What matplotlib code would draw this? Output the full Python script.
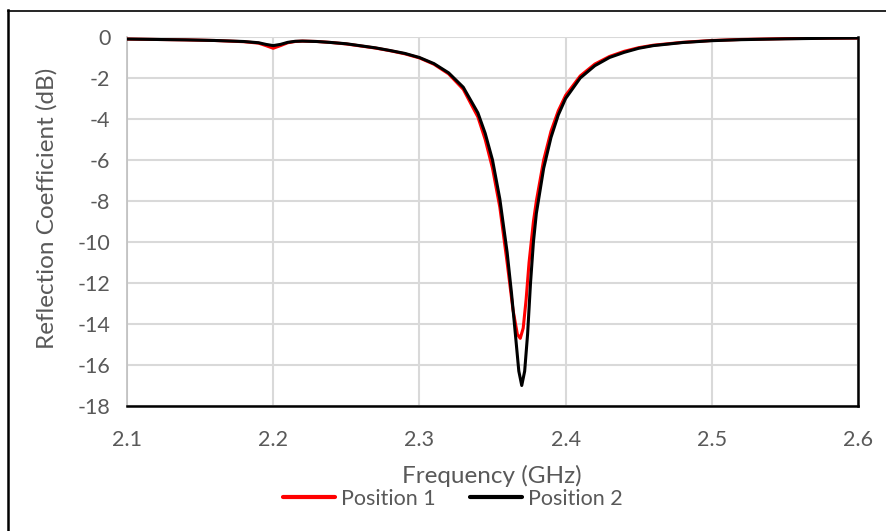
import matplotlib
matplotlib.use("Agg")
import matplotlib.pyplot as plt
from matplotlib.lines import Line2D

plt.rcParams['font.family'] = ['Lato', 'DejaVu Sans']

# Measured reflection coefficient, position 1
freq_p1 = [2.10, 2.12, 2.14, 2.16, 2.18, 2.19, 2.195, 2.20, 2.205, 2.21, 2.215,
           2.22, 2.23, 2.24, 2.25, 2.26, 2.27, 2.28, 2.29, 2.30, 2.31, 2.32,
           2.33, 2.34, 2.345, 2.35, 2.355, 2.36, 2.364, 2.367, 2.369, 2.371,
           2.373, 2.375, 2.378, 2.38, 2.385, 2.39, 2.395, 2.40, 2.41, 2.42,
           2.43, 2.44, 2.45, 2.46, 2.48, 2.50, 2.52, 2.55, 2.58, 2.60]
s11_p1 = [-0.10, -0.12, -0.14, -0.17, -0.23, -0.30, -0.42, -0.55, -0.42, -0.28, -0.22,
          -0.20, -0.22, -0.27, -0.34, -0.44, -0.54, -0.67, -0.82, -1.02, -1.33, -1.80,
          -2.55, -3.90, -5.00, -6.40, -8.30, -11.0, -13.3, -14.5, -14.7, -14.2,
          -12.8, -11.0, -9.0, -8.0, -6.0, -4.6, -3.6, -2.85, -1.90, -1.32,
          -0.95, -0.70, -0.52, -0.40, -0.26, -0.17, -0.12, -0.08, -0.06, -0.05]

# Measured reflection coefficient, position 2
freq_p2 = [2.10, 2.12, 2.14, 2.16, 2.18, 2.19, 2.195, 2.20, 2.205, 2.21, 2.215,
           2.22, 2.23, 2.24, 2.25, 2.26, 2.27, 2.28, 2.29, 2.30, 2.31, 2.32,
           2.33, 2.34, 2.345, 2.35, 2.355, 2.36, 2.363, 2.365, 2.368, 2.370,
           2.372, 2.374, 2.376, 2.378, 2.38, 2.385, 2.39, 2.395, 2.40, 2.41,
           2.42, 2.43, 2.44, 2.45, 2.46, 2.48, 2.50, 2.52, 2.55, 2.58, 2.60]
s11_p2 = [-0.10, -0.12, -0.14, -0.17, -0.22, -0.28, -0.36, -0.42, -0.36, -0.26, -0.21,
          -0.20, -0.22, -0.27, -0.33, -0.43, -0.53, -0.66, -0.80, -1.00, -1.30, -1.75,
          -2.45, -3.70, -4.70, -6.00, -7.90, -10.5, -12.5, -14.0, -16.3, -17.0,
          -16.3, -14.5, -12.0, -10.0, -8.6, -6.4, -4.9, -3.8, -3.0, -2.0,
          -1.40, -1.00, -0.75, -0.55, -0.42, -0.27, -0.18, -0.13, -0.09, -0.06, -0.05]

x_ticks = [2.1, 2.2, 2.3, 2.4, 2.5, 2.6]
y_ticks = [0, -2, -4, -6, -8, -10, -12, -14, -16, -18]
series_names = ["Position 1", "Position 2"]

W, H = 887, 531
fig = plt.figure(figsize=(W / 100, H / 100), dpi=100)
ax = fig.add_axes([127 / W, 1 - 406 / H, (858 - 127) / W, (406 - 37) / H])

txt = '#595959'
grid = '#d9d9d9'

ax.plot(freq_p1, s11_p1, color='#ff0000', lw=2.2, solid_capstyle='round',
        label=series_names[0], zorder=3)
ax.plot(freq_p2, s11_p2, color='#000000', lw=2.2, solid_capstyle='round',
        label=series_names[1], zorder=4)

ax.set_xlim(2.1, 2.6)
ax.set_ylim(-18, 0)
ax.set_xticks(x_ticks)
ax.set_xticklabels([f"{v:.1f}" for v in x_ticks])
ax.set_yticks(y_ticks)
ax.set_yticklabels([f"{v}" for v in y_ticks])

ax.grid(True, color=grid, lw=1.5, zorder=0)
ax.set_axisbelow(True)
ax.tick_params(axis='both', length=0, colors=txt, labelsize=15.5)
ax.tick_params(axis='x', pad=17)
ax.tick_params(axis='y', pad=12)

ax.spines['top'].set_visible(False)
ax.spines['left'].set_color('#bfbfbf')
ax.spines['left'].set_linewidth(1.2)
ax.spines['bottom'].set_color('black')
ax.spines['bottom'].set_linewidth(1.8)
ax.spines['right'].set_color('black')
ax.spines['right'].set_linewidth(1.8)

fig.text(47 / W, 1 - 208 / H, "Reflection Coefficient (dB)", rotation=90,
         ha='center', va='center', fontsize=17.5, color=txt)
fig.text(492 / W, 1 - 476 / H, "Frequency (GHz)", ha='center', va='center',
         fontsize=17.5, color=txt)

leg = fig.legend(loc='center', bbox_to_anchor=(453 / W, 1 - 499 / H), ncol=2,
                 frameon=False, fontsize=15.5, handlelength=2.4, handletextpad=0.28,
                 columnspacing=1.6, labelcolor=txt, borderpad=0)
for h in leg.legend_handles:
    h.set_linewidth(3)

# outer chart frame
fig.add_artist(Line2D([8.5 / W, 8.5 / W], [1 - 10 / H, 0], transform=fig.transFigure,
                      color='black', lw=1.8))
fig.add_artist(Line2D([8 / W, 1], [1 - 10.5 / H, 1 - 10.5 / H], transform=fig.transFigure,
                      color='black', lw=1.2))

fig.savefig("out.png", dpi=100, facecolor='white')
